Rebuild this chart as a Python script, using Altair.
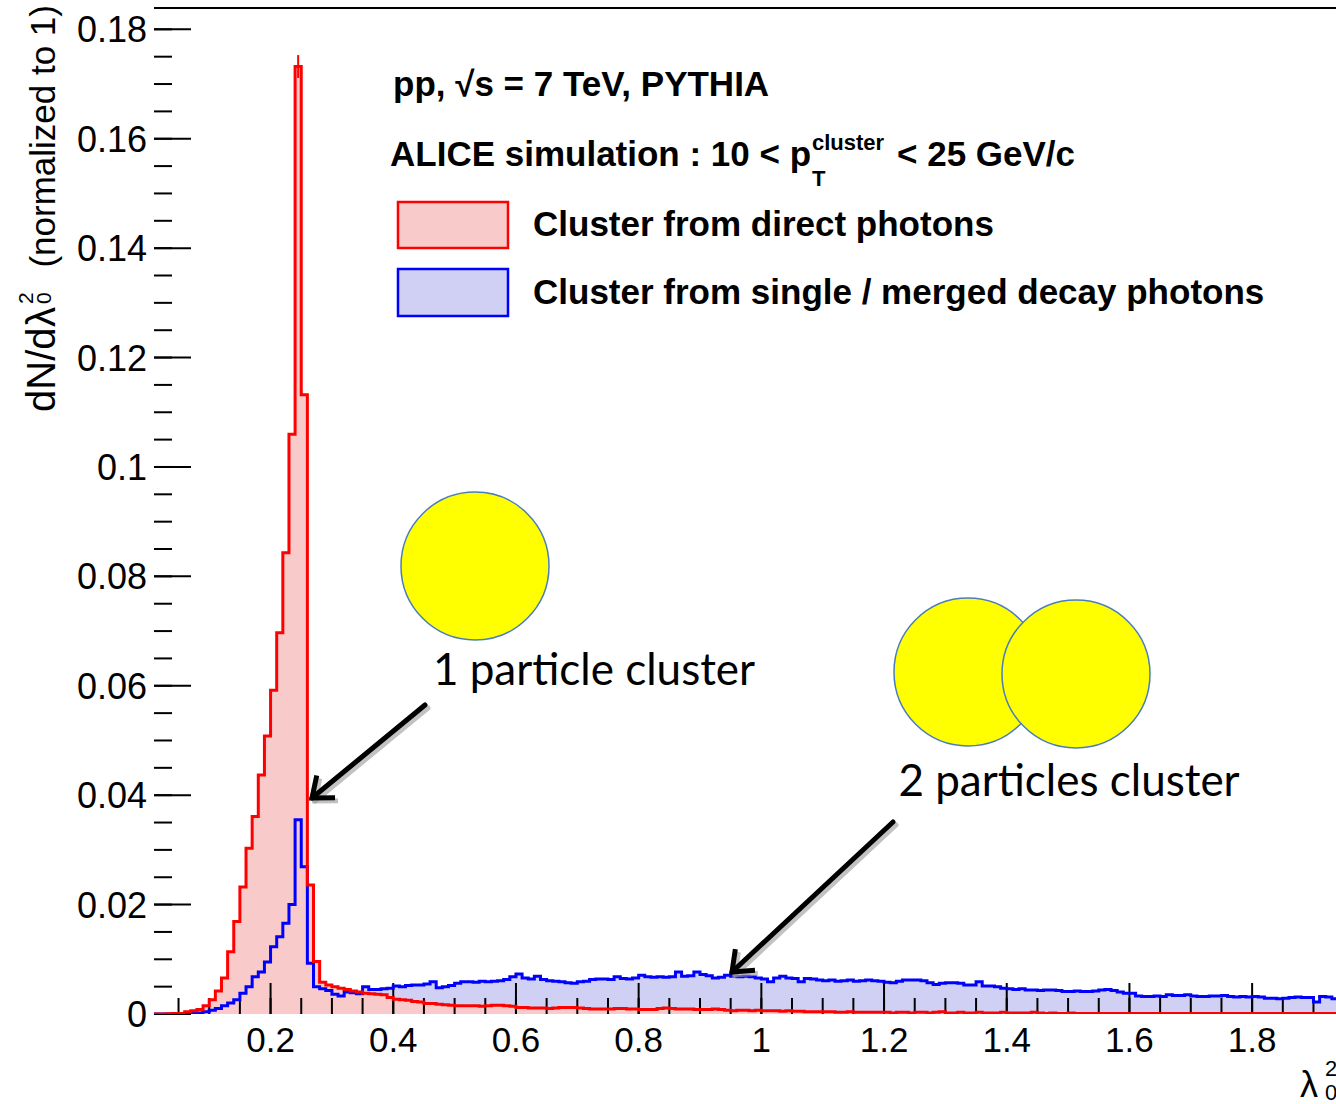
import math
import altair as alt
import pandas as pd

# lambda0^2 shower-shape histograms, 0.01-wide bins, first bin starting at 0.01
BIN_WIDTH = 0.01
FIRST_BIN = 0.01

direct_photons = [
    0.0, 0.0, 0.00005, 0.0001, 0.0001, 0.0004, 0.0006, 0.0008, 0.0015, 0.0026,
    0.0042, 0.0066, 0.0114, 0.0169, 0.0232, 0.0303, 0.0361, 0.0437, 0.0508, 0.0592,
    0.0697, 0.0843, 0.1060, 0.1732, 0.1132, 0.0236, 0.0096, 0.0058, 0.0053, 0.0050,
    0.0047, 0.0045, 0.0042, 0.0040, 0.0038, 0.0037, 0.0036, 0.0035, 0.0030,
    # 0.40 - 0.59
    0.0027, 0.0026, 0.0025, 0.0023, 0.0022, 0.0019, 0.0019, 0.0018, 0.0017, 0.0016,
    0.0015, 0.0015, 0.0015, 0.0015, 0.0014, 0.0015, 0.0016, 0.0016, 0.0015, 0.0014,
    # 0.60 - 0.79
    0.0012, 0.0012, 0.0011, 0.0011, 0.0011, 0.0010, 0.0011, 0.0012, 0.0012, 0.0012,
    0.0011, 0.0010, 0.0009, 0.0009, 0.0009, 0.0009, 0.0010, 0.0010, 0.0009, 0.0009,
    # 0.80 - 0.99
    0.0008, 0.0008, 0.0008, 0.0010, 0.0011, 0.0010, 0.0009, 0.0009, 0.0009, 0.0008,
    0.0008, 0.0008, 0.0009, 0.0008, 0.0007, 0.0006, 0.0007, 0.0007, 0.0006, 0.0007,
    # 1.00 - 1.19
    0.0006, 0.0006, 0.0006, 0.0005, 0.0006, 0.0005, 0.0005, 0.0004, 0.0004, 0.0004,
    0.0004, 0.0004, 0.0003, 0.0003, 0.0004, 0.0003, 0.0003, 0.0003, 0.0003, 0.0003,
    # 1.20 - 1.39
    0.0003, 0.0002, 0.0003, 0.0003, 0.0002, 0.0003, 0.0003, 0.0002, 0.0003, 0.0004,
    0.0002, 0.0002, 0.0003, 0.0002, 0.0002, 0.0003, 0.0002, 0.0002, 0.0002, 0.0003,
    # 1.40 - 1.59
    0.0002, 0.0002, 0.0002, 0.0002, 0.0003, 0.0002, 0.0001, 0.0002, 0.0001, 0.0001,
    0.0002, 0.0001, 0.0001, 0.0001, 0.0001, 0.0001, 0.0001, 0.0001, 0.0001, 0.0001,
    # 1.60 - 1.79
    0.0001, 0.0001, 0.0001, 0.0001, 0.0001, 0.0001, 0.0001, 0.0001, 0.0001, 0.0001,
    0.0001, 0.0001, 0.0001, 0.0001, 0.0001, 0.0001, 0.0001, 0.0001, 0.0001, 0.0001,
    # 1.80 - 1.93
    0.0001, 0.0001, 0.0001, 0.0001, 0.0001, 0.0001, 0.0001, 0.0001, 0.0001, 0.0001,
    0.0001, 0.0001, 0.0001, 0.0001,
]

decay_photons = [
    0.0, 0.0, 0.0, 0.00005, 0.00005, 0.0001, 0.0001, 0.0002, 0.0004, 0.0007,
    0.0010, 0.0015, 0.0020, 0.0026, 0.0038, 0.0050, 0.0068, 0.0077, 0.0095, 0.0123,
    0.0141, 0.0166, 0.0200, 0.0355, 0.0269, 0.0093, 0.0050, 0.0046, 0.0043, 0.0036,
    0.0033, 0.0040, 0.0039, 0.0037, 0.0050, 0.0045, 0.0045, 0.0046, 0.0047,
    # 0.40 - 0.59
    0.0051, 0.0050, 0.0052, 0.0053, 0.0053, 0.0055, 0.0059, 0.0048, 0.0050, 0.0052,
    0.0056, 0.0059, 0.0059, 0.0058, 0.0060, 0.0059, 0.0060, 0.0061, 0.0063, 0.0068,
    # 0.60 - 0.79
    0.0073, 0.0066, 0.0064, 0.0069, 0.0063, 0.0061, 0.0060, 0.0059, 0.0057, 0.0056,
    0.0059, 0.0060, 0.0063, 0.0064, 0.0064, 0.0063, 0.0068, 0.0065, 0.0064, 0.0066,
    # 0.80 - 0.99
    0.0071, 0.0068, 0.0067, 0.0068, 0.0067, 0.0068, 0.0077, 0.0069, 0.0070, 0.0077,
    0.0072, 0.0070, 0.0066, 0.0067, 0.0071, 0.0069, 0.0068, 0.0069, 0.0068, 0.0066,
    # 1.00 - 1.19
    0.0064, 0.0059, 0.0066, 0.0069, 0.0066, 0.0065, 0.0059, 0.0065, 0.0064, 0.0062,
    0.0061, 0.0062, 0.0060, 0.0061, 0.0062, 0.0060, 0.0061, 0.0062, 0.0061, 0.0060,
    # 1.20 - 1.39
    0.0058, 0.0057, 0.0060, 0.0062, 0.0062, 0.0062, 0.0061, 0.0057, 0.0054, 0.0056,
    0.0057, 0.0057, 0.0056, 0.0053, 0.0053, 0.0059, 0.0051, 0.0051, 0.0050, 0.0047,
    # 1.40 - 1.59
    0.0046, 0.0045, 0.0046, 0.0044, 0.0044, 0.0043, 0.0044, 0.0044, 0.0043, 0.0041,
    0.0041, 0.0042, 0.0041, 0.0041, 0.0042, 0.0044, 0.0045, 0.0043, 0.0040, 0.0038,
    # 1.60 - 1.79
    0.0038, 0.0033, 0.0032, 0.0032, 0.0033, 0.0032, 0.0035, 0.0034, 0.0034, 0.0035,
    0.0033, 0.0032, 0.0032, 0.0033, 0.0033, 0.0034, 0.0032, 0.0031, 0.0032, 0.0031,
    # 1.80 - 1.93
    0.0032, 0.0031, 0.0029, 0.0029, 0.0028, 0.0029, 0.0030, 0.0031, 0.0030, 0.0030,
    0.0022, 0.0032, 0.0031, 0.0028,
]

# statistical error bar on the tallest direct-photon bin
peak_bin_low = 0.24
peak_value = 0.1732
peak_error = 0.0021

x_tick_labels = [0.2, 0.4, 0.6, 0.8, 1.0, 1.2, 1.4, 1.6, 1.8]
y_tick_labels = [0.0, 0.02, 0.04, 0.06, 0.08, 0.10, 0.12, 0.14, 0.16, 0.18]
x_minor_ticks = [round(0.05 * k, 2) for k in range(1, 39)]
y_minor_ticks = [round(0.005 * k, 3) for k in range(1, 37)]

# frame
X_MIN, X_MAX = 0.01, 1.9367
Y_MIN, Y_MAX = 0.0, 0.1839
PLOT_W, PLOT_H = 1182, 1006
PAD = {"left": 154, "top": 8, "right": 0, "bottom": 86}

FONT = "Liberation Sans"
NOTE_FONT = "Lato"
RED, BLUE = "#ff0000", "#0000ff"
RED_FILL, BLUE_FILL = "#f8caca", "#d0d0f5"
CIRCLE_FILL, CIRCLE_EDGE = "#ffff00", "#4a7ebb"

ONE = pd.DataFrame({"k": [0]})
xs = alt.Scale(domain=[X_MIN, X_MAX], nice=False, zero=False)
ys = alt.Scale(domain=[Y_MIN, Y_MAX], nice=False, zero=False)


def px(ax):
    return ax - PAD["left"]


def py(ay):
    return ay - PAD["top"]


def hist_table(values):
    edges = [round(FIRST_BIN + BIN_WIDTH * i, 4) for i in range(len(values) + 1)]
    return pd.DataFrame({"lam": edges, "dn": list(values) + [values[-1]]})


red_df = hist_table(direct_photons)
blue_df = hist_table(decay_photons)

x_axis = alt.Axis(ticks=False, labels=False, grid=False, domainColor="black",
                  domainWidth=2, title=None)
y_axis = alt.Axis(ticks=False, labels=False, grid=False, domainColor="black",
                  domainWidth=2, title=None)

blue_area = alt.Chart(blue_df).mark_area(
    interpolate="step-after", color=BLUE_FILL, clip=True
).encode(
    x=alt.X("lam:Q", scale=xs, axis=x_axis),
    y=alt.Y("dn:Q", scale=ys, axis=y_axis),
)
red_area = alt.Chart(red_df).mark_area(
    interpolate="step-after", color=RED_FILL, clip=True
).encode(
    x=alt.X("lam:Q", scale=xs, axis=None),
    y=alt.Y("dn:Q", scale=ys, axis=None),
)
blue_line = alt.Chart(blue_df).mark_line(
    interpolate="step-after", color=BLUE, strokeWidth=3, clip=True
).encode(
    x=alt.X("lam:Q", scale=xs, axis=None),
    y=alt.Y("dn:Q", scale=ys, axis=None),
)
red_line = alt.Chart(red_df).mark_line(
    interpolate="step-after", color=RED, strokeWidth=3, clip=True
).encode(
    x=alt.X("lam:Q", scale=xs, axis=None),
    y=alt.Y("dn:Q", scale=ys, axis=None),
)
peak_err = alt.Chart(pd.DataFrame({
    "lam": [peak_bin_low + BIN_WIDTH / 2],
    "lo": [peak_value - peak_error],
    "hi": [peak_value + peak_error],
})).mark_rule(color=RED, strokeWidth=2).encode(
    x=alt.X("lam:Q", scale=xs, axis=None),
    y=alt.Y("lo:Q", scale=ys, axis=None),
    y2="hi:Q",
)

# ROOT-style ticks pointing into the frame
x_minor = alt.Chart(pd.DataFrame({"v": x_minor_ticks})).mark_rule(
    color="black", strokeWidth=2
).encode(x=alt.X("v:Q", scale=xs, axis=None), y=alt.value(PLOT_H), y2=alt.value(PLOT_H - 16))
x_major = alt.Chart(pd.DataFrame({"v": x_tick_labels})).mark_rule(
    color="black", strokeWidth=2
).encode(x=alt.X("v:Q", scale=xs, axis=None), y=alt.value(PLOT_H), y2=alt.value(PLOT_H - 31))
y_minor = alt.Chart(pd.DataFrame({"v": y_minor_ticks})).mark_rule(
    color="black", strokeWidth=2
).encode(y=alt.Y("v:Q", scale=ys, axis=None), x=alt.value(0), x2=alt.value(18))
y_major = alt.Chart(pd.DataFrame({"v": y_tick_labels})).mark_rule(
    color="black", strokeWidth=2
).encode(y=alt.Y("v:Q", scale=ys, axis=None), x=alt.value(0), x2=alt.value(37))
top_frame = alt.Chart(ONE).mark_rule(color="black", strokeWidth=2).encode(
    x=alt.value(0), x2=alt.value(PLOT_W), y=alt.value(0)
)

# tick labels placed through the same scales
x_label_df = pd.DataFrame({"v": x_tick_labels, "t": [f"{v:g}" for v in x_tick_labels]})
y_label_df = pd.DataFrame({"v": y_tick_labels, "t": [f"{v:g}" for v in y_tick_labels]})
x_labels = alt.Chart(x_label_df).mark_text(
    font=FONT, fontSize=35, color="black", align="center", baseline="alphabetic"
).encode(x=alt.X("v:Q", scale=xs, axis=None), y=alt.value(PLOT_H + 38), text="t:N")
y_labels = alt.Chart(y_label_df).mark_text(
    font=FONT, fontSize=36, color="black", align="right", baseline="alphabetic", dy=13
).encode(y=alt.Y("v:Q", scale=ys, axis=None), x=alt.value(-7), text="t:N")


def text(s, ax, ay, size, bold=False, font=FONT, align="left",
         baseline="alphabetic", angle=0):
    return alt.Chart(ONE).mark_text(
        text=s, font=font, fontSize=size, fontWeight="bold" if bold else "normal",
        align=align, baseline=baseline, angle=angle, color="black",
    ).encode(x=alt.value(px(ax)), y=alt.value(py(ay)))


header = [
    text("pp, \u221as = 7 TeV, PYTHIA", 393, 96, 35, bold=True),
    text("ALICE simulation : 10 < p", 390, 166, 35, bold=True),
    text("cluster", 812, 150, 22, bold=True),
    text("T", 812, 186, 22, bold=True),
    text("< 25 GeV/c", 897, 166, 35, bold=True),
]

legend_boxes = [
    alt.Chart(ONE).mark_rect(fill=RED_FILL, stroke=RED, strokeWidth=2.5).encode(
        x=alt.value(px(398)), x2=alt.value(px(508)), y=alt.value(py(202)), y2=alt.value(py(248))
    ),
    alt.Chart(ONE).mark_rect(fill=BLUE_FILL, stroke=BLUE, strokeWidth=2.5).encode(
        x=alt.value(px(398)), x2=alt.value(px(508)), y=alt.value(py(269)), y2=alt.value(py(316))
    ),
]
legend_text = [
    text("Cluster from direct photons", 533, 236, 35, bold=True),
    text("Cluster from single / merged decay photons", 533, 304, 35, bold=True),
]

axis_titles = [
    text("dN/d", 55, 412, 40, angle=270),
    text("\u03bb", 55, 327, 40, angle=270),
    text("2", 33, 304, 21, angle=270),
    text("0", 51, 304, 21, angle=270),
    text("(normalized to 1)", 55, 5, 35, angle=270, align="right"),
    text("\u03bb", 1300, 1097, 36),
    text("2", 1325, 1076, 22),
    text("0", 1325, 1100, 22),
]

# cluster sketches: one photon shower, two overlapping showers
circles_df = pd.DataFrame({
    "cx": [px(475), px(968), px(1076)],
    "cy": [py(566), py(672), py(674)],
    "order": [0, 1, 2],
})
circles = alt.Chart(circles_df).mark_point(
    shape="circle", filled=True, fill=CIRCLE_FILL, stroke=CIRCLE_EDGE,
    strokeWidth=1.5, opacity=1, fillOpacity=1, size=148 * 148,
).encode(
    x=alt.X("cx:Q", scale=None, axis=None),
    y=alt.Y("cy:Q", scale=None, axis=None),
    order="order:Q",
)

notes = [
    text("1 particle cluster", 594, 672, 44, font=NOTE_FONT, align="center", baseline="middle"),
    text("2 particles cluster", 1069, 783, 44, font=NOTE_FONT, align="center", baseline="middle"),
]

# arrows pointing at the single-photon peak and the merged-cluster tail
arrows = [((425, 705), (312, 798)), ((893, 822), (732, 972))]
HEAD = "M -1 -0.8 L 0 0 L -1 0.8"


def arrow(tail, tip, color, dx=0, dy=0, opacity=1.0):
    ang = math.degrees(math.atan2(tip[1] - tail[1], tip[0] - tail[0])) % 360
    shaft = alt.Chart(ONE).mark_rule(
        color=color, strokeWidth=5, opacity=opacity, strokeCap="round"
    ).encode(
        x=alt.value(px(tail[0]) + dx), y=alt.value(py(tail[1]) + dy),
        x2=alt.value(px(tip[0]) + dx), y2=alt.value(py(tip[1]) + dy),
    )
    head = alt.Chart(ONE).mark_point(
        shape=HEAD, filled=False, stroke=color, strokeWidth=5, opacity=opacity,
        size=36 * 36, angle=ang, strokeJoin="miter",
    ).encode(x=alt.value(px(tip[0]) + dx), y=alt.value(py(tip[1]) + dy))
    return [shaft, head]


arrow_layers = []
for tail, tip in arrows:
    arrow_layers += arrow(tail, tip, "#9a9a9a", dx=3, dy=3, opacity=0.6)
for tail, tip in arrows:
    arrow_layers += arrow(tail, tip, "black")

chart = alt.layer(
    blue_area, red_area, x_minor, x_major, y_minor, y_major,
    blue_line, red_line, peak_err, top_frame, x_labels, y_labels,
    *header, *legend_boxes, *legend_text, *axis_titles,
    circles, *notes, *arrow_layers,
).properties(
    width=PLOT_W, height=PLOT_H, padding=PAD,
    autosize=alt.AutoSizeParams(type="none"), background="white",
).configure_view(stroke=None)

chart.save("out.html", embed_options={"renderer": "svg", "actions": False})
